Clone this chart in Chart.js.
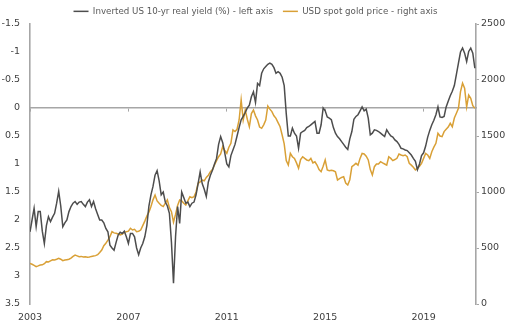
<!DOCTYPE html>
<html>
<head>
<meta charset="utf-8">
<script src="https://cdn.jsdelivr.net/npm/chart.js@4"></script>
<style>
  html, body { margin: 0; padding: 0; background: #fff; }
  #wrap { width: 511px; height: 333px; position: relative; }
</style>
</head>
<body>
<div id="wrap"><canvas id="chart"></canvas></div>
<script>
// monthly series, Jan 2003 .. Feb 2021
const startYear = 2003;
const xTickYears = [2003, 2007, 2011, 2015, 2019];
const leftTitle = 'Inverted US 10-yr real yield (%) - left axis';
const rightTitle = 'USD spot gold price - right axis';

const realYield = [
    2.21, 2.0, 1.79, 2.12, 1.85, 1.85, 2.2, 2.42, 2.1, 1.94, 2.03, 1.95,
    1.88, 1.7, 1.49, 1.75, 2.12, 2.05, 2.0, 1.85, 1.76, 1.7, 1.67, 1.72,
    1.68, 1.67, 1.72, 1.76, 1.68, 1.64, 1.76, 1.67, 1.8, 1.9, 2.0, 2.0,
    2.05, 2.15, 2.21, 2.45, 2.5, 2.54, 2.4, 2.27, 2.22, 2.24, 2.2, 2.3,
    2.42, 2.24, 2.24, 2.3, 2.5, 2.62, 2.5, 2.42, 2.3, 2.1, 1.75, 1.55,
    1.4, 1.2, 1.12, 1.3, 1.55, 1.5, 1.68, 1.75, 1.88, 2.4, 3.13, 2.3,
    1.76, 2.06, 1.5, 1.6, 1.7, 1.68, 1.76, 1.7, 1.68, 1.55, 1.35, 1.14,
    1.35, 1.45, 1.58, 1.32, 1.2, 1.11, 1.0, 0.9, 0.65, 0.51, 0.62, 0.8,
    1.0, 1.05, 0.85, 0.75, 0.65, 0.5, 0.35, 0.21, 0.15, 0.08, 0.0, -0.05,
    -0.2, -0.29, -0.1, -0.44, -0.4, -0.62, -0.7, -0.74, -0.78, -0.8, -0.78, -0.72,
    -0.62, -0.65, -0.62, -0.55, -0.4, 0.1, 0.5, 0.5, 0.36, 0.45, 0.5, 0.72,
    0.45, 0.42, 0.4, 0.35, 0.33, 0.3, 0.27, 0.24, 0.45, 0.45, 0.3, 0.0,
    0.05, 0.16, 0.18, 0.21, 0.35, 0.45, 0.51, 0.55, 0.6, 0.65, 0.7, 0.74,
    0.55, 0.42, 0.2, 0.15, 0.12, 0.05, -0.02, 0.05, 0.02, 0.18, 0.48, 0.45,
    0.39, 0.4, 0.42, 0.45, 0.48, 0.51, 0.39, 0.45, 0.5, 0.52, 0.57, 0.6,
    0.65, 0.72, 0.73, 0.75, 0.76, 0.8, 0.84, 0.9, 0.95, 1.1, 1.0, 0.85,
    0.8, 0.68, 0.52, 0.4, 0.3, 0.22, 0.12, -0.02, 0.16, 0.17, 0.15, -0.02,
    -0.12, -0.22, -0.3, -0.4, -0.6, -0.8, -1.0, -1.07, -0.98, -0.83, -1.01, -1.07,
    -0.98, -0.71
];

const goldPrice = [
    363, 355, 345, 333, 340, 348, 350, 360, 378, 375, 385, 395,
    393, 400, 408, 400, 387, 392, 396, 400, 410, 425, 437, 430,
    423, 425, 420, 422, 417, 420, 425, 429, 432, 440, 460, 482,
    520, 542, 570, 601, 646, 635, 631, 625, 616, 625, 640, 646,
    650, 676, 661, 667, 646, 650, 660, 700, 740, 785, 820, 870,
    930, 973, 920, 899, 880, 870, 900, 929, 860, 824, 730, 800,
    880, 929, 920, 900, 884, 920, 958, 950, 958, 1000, 1078, 1090,
    1107, 1100, 1130, 1150, 1181, 1200, 1241, 1280, 1315, 1340, 1405, 1370,
    1345, 1400, 1435, 1554, 1540, 1560, 1643, 1822, 1643, 1732, 1650, 1583,
    1700, 1732, 1680, 1643, 1580, 1569, 1600, 1643, 1768, 1740, 1718, 1680,
    1658, 1620, 1583, 1509, 1430, 1280, 1241, 1345, 1315, 1300, 1260, 1212,
    1290, 1315, 1300, 1286, 1280, 1300, 1260, 1270, 1241, 1200, 1181, 1230,
    1286, 1197, 1190, 1195, 1190, 1181, 1107, 1120, 1130, 1137, 1080, 1063,
    1110, 1226, 1240, 1256, 1240, 1300, 1345, 1340, 1320, 1286, 1200, 1152,
    1226, 1250, 1250, 1271, 1260, 1250, 1240, 1315, 1300, 1280, 1290, 1301,
    1339, 1330, 1325, 1330, 1315, 1256, 1240, 1220, 1197, 1212, 1230, 1256,
    1300, 1345, 1330, 1300, 1360, 1400, 1435, 1524, 1500, 1494, 1539, 1560,
    1580, 1613, 1583, 1660, 1703, 1747, 1896, 1971, 1926, 1760, 1866, 1836,
    1770, 1747
];

const toPoints = (arr) => arr.map((v, i) => ({ x: startYear + i / 12, y: v }));

const axisGrey = '#a6a6a6';
const textColor = '#404040';
const xMin = 2003;
const xMax = 2021.13;
const setYearTicks = (scale) => {
    scale.ticks = xTickYears.map(v => ({ value: v }));
};

new Chart(document.getElementById('chart'), {
    type: 'line',
    data: {
        datasets: [{
            label: leftTitle,
            data: toPoints(realYield),
            yAxisID: 'y',
            xAxisID: 'x',
            borderColor: '#4d4d4d',
            backgroundColor: '#4d4d4d',
            borderWidth: 1.5,
            pointRadius: 0,
            tension: 0
        }, {
            label: rightTitle,
            data: toPoints(goldPrice),
            yAxisID: 'y2',
            xAxisID: 'x',
            borderColor: '#d9a036',
            backgroundColor: '#d9a036',
            borderWidth: 1.5,
            pointRadius: 0,
            tension: 0
        }]
    },
    options: {
        responsive: true,
        maintainAspectRatio: false,
        animation: false,
        layout: { padding: { top: -3, left: 0, right: 0, bottom: 0 } },
        plugins: {
            tooltip: { enabled: false },
            legend: {
                display: true,
                position: 'top',
                maxHeight: 27,
                labels: {
                    usePointStyle: true,
                    pointStyle: 'line',
                    pointStyleWidth: 15,
                    boxWidth: 15,
                    boxHeight: 8,
                    padding: 10,
                    color: '#595959',
                    font: { family: 'DejaVu Sans', size: 8.7 }
                }
            }
        },
        scales: {
            x: {
                type: 'linear',
                position: 'bottom',
                min: xMin,
                max: xMax,
                afterBuildTicks: setYearTicks,
                afterFit: (scale) => { scale.height = 29; },
                border: { display: false },
                grid: { display: false, drawTicks: false },
                ticks: {
                    padding: 8,
                    maxRotation: 0,
                    autoSkip: false,
                    color: textColor,
                    font: { family: 'DejaVu Sans', size: 9.5 },
                    callback: (v) => String(v)
                }
            },
            xZero: {
                type: 'linear',
                axis: 'x',
                position: { y: 0 },
                min: xMin,
                max: xMax,
                afterBuildTicks: setYearTicks,
                border: { display: true, color: axisGrey, width: 1.6 },
                grid: { drawOnChartArea: false, drawTicks: true, tickLength: 3, color: axisGrey },
                ticks: { display: false }
            },
            y: {
                type: 'linear',
                position: 'left',
                reverse: true,
                min: -1.5,
                max: 3.5,
                afterFit: (scale) => { scale.width = 30; },
                border: { display: true, color: axisGrey, width: 1.6 },
                grid: { display: false, drawTicks: false },
                ticks: {
                    stepSize: 0.5,
                    padding: 10,
                    color: textColor,
                    font: { family: 'DejaVu Sans', size: 9.5 },
                    callback: (v) => String(Math.round(v * 10) / 10)
                }
            },
            y2: {
                type: 'linear',
                position: 'right',
                min: 0,
                max: 2500,
                afterFit: (scale) => { scale.width = 35; },
                border: { display: true, color: axisGrey, width: 1.6 },
                grid: { drawOnChartArea: false, drawTicks: true, tickLength: 3, color: axisGrey },
                ticks: {
                    stepSize: 500,
                    padding: 2,
                    color: textColor,
                    font: { family: 'DejaVu Sans', size: 9.5 },
                    callback: (v) => String(v)
                }
            }
        }
    }
});
</script>
</body>
</html>
